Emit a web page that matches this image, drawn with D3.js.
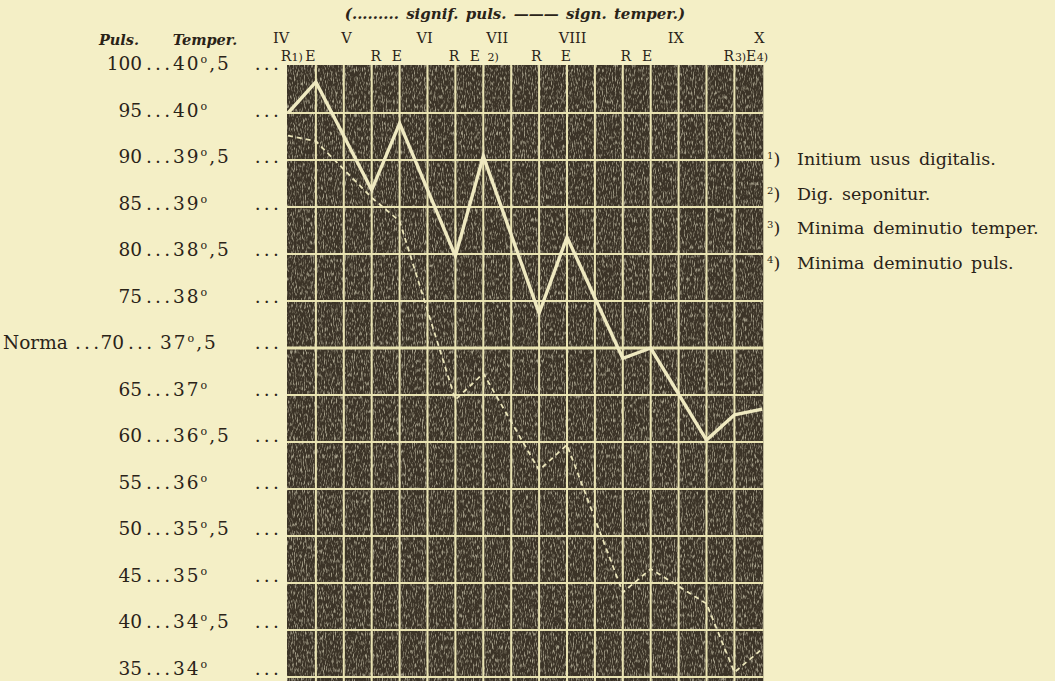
<!DOCTYPE html>
<html><head><meta charset="utf-8">
<script src="https://cdn.jsdelivr.net/npm/d3@7"></script>
<style>
html,body{margin:0;padding:0;background:#f4efc6;}
svg{display:block;}
text{font-family:"DejaVu Serif",serif;fill:#2a2318;}
</style></head><body>
<svg id="c" width="1055" height="681"></svg>
<script>
// ---- data ----
const pulseTicks = [100,95,90,85,80,75,70,65,60,55,50,45,40,35];
const temperTicks = [40.5,40,39.5,39,38.5,38,37.5,37,36.5,36,35.5,35,34.5,34];
const days = ["IV","V","VI","VII","VIII","IX","X"];
const dayCol = [-0.25,2.1,4.9,7.5,10.2,13.9,16.9];
const markText = ["R","1)","E","R","E","R","E","2)","R","E","R","E","R","3)","E","4)"];
const markCol = [-0.07,0.33,0.8,3.15,3.9,5.95,6.7,7.35,8.9,9.96,12.11,12.87,15.8,16.22,16.6,17.0];
const obsCol = [0,1,3,4,6,7,9,10,12,13,15,16,17];
const temper = [40.0,40.33,39.18,39.89,38.48,39.54,37.87,38.68,37.39,37.5,36.52,36.79,36.85];
const pulse  = [92.6,92.0,86.0,83.5,64.5,67.3,57.0,59.7,44.0,46.5,42.8,35.5,38.0];
const notes = ["Initium usus digitalis.","Dig. seponitur.","Minima deminutio temper.","Minima deminutio puls."];
const noteNum = ["1","2","3","4"];
const normaPulse = 70;

// ---- scales ----
const nCols = 17;
const x = d3.scaleLinear().domain([0,nCols]).range([288,762.3]);
const y = d3.scaleLinear().domain([35,100]).range([677,66]);
const yT = d3.scaleLinear().domain([34,40.5]).range([677,66]);
const yLab = d3.scaleLinear().domain([35,100]).range([668,63.5]);

const svg = d3.select("#c");
const defs = svg.append("defs");
const f = defs.append("filter").attr("id","grain").attr("x",0).attr("y",0).attr("width",1).attr("height",1);
f.append("feTurbulence").attr("type","fractalNoise").attr("baseFrequency","0.9 0.22").attr("numOctaves",2).attr("seed",7);
f.append("feColorMatrix").attr("type","matrix")
 .attr("values","0 0 0 0 0.86  0 0 0 0 0.82  0 0 0 0 0.62  0 0 0 3.2 -1.55");
f.append("feComposite").attr("in2","SourceGraphic").attr("operator","in");

// grid background
const gx0 = x(0)-1, gx1 = x(nCols)+1, gy0 = y(100)-1, gy1 = 681;
svg.append("rect").attr("x",gx0).attr("y",gy0).attr("width",gx1-gx0).attr("height",gy1-gy0).attr("fill","#3b3327");
svg.append("rect").attr("x",gx0).attr("y",gy0).attr("width",gx1-gx0).attr("height",gy1-gy0)
  .attr("fill","#fff").attr("filter","url(#grain)").attr("opacity",0.6);

// grid lines
const gridCol = "#e9e3b2";
svg.append("g").selectAll("line").data(d3.range(1,nCols)).join("line")
  .attr("x1",d=>x(d)).attr("x2",d=>x(d)).attr("y1",gy0).attr("y2",gy1)
  .attr("stroke",gridCol).attr("stroke-width",2);
svg.append("g").selectAll("line").data(pulseTicks.filter(p=>p<100)).join("line")
  .attr("x1",gx0).attr("x2",gx1).attr("y1",d=>y(d)).attr("y2",d=>y(d))
  .attr("stroke",gridCol).attr("stroke-width",d=>d===normaPulse?3.2:2);

// series
const pulseLine = d3.line().x((d,i)=>x(obsCol[i])).y(d=>y(d));
const tempLine = d3.line().x((d,i)=>x(obsCol[i])).y(d=>yT(d));
svg.append("path").datum(pulse).attr("d",pulseLine).attr("fill","none")
  .attr("stroke","#ece6bb").attr("stroke-width",1.8).attr("stroke-dasharray","5 4");
svg.append("path").datum(temper).attr("d",tempLine).attr("fill","none")
  .attr("stroke","#efe9c0").attr("stroke-width",3.4).attr("stroke-linejoin","miter");

// left labels
const fmtT = t => { const w = Math.floor(t); return {w:String(w), h: t-w>0 ? ",5" : ""}; };
const lab = svg.append("g").style("font-size","18.5px");
const dots = (xx,yy,anchor) => lab.append("text").attr("x",xx).attr("y",yy)
  .attr("text-anchor",anchor||"start").style("letter-spacing","3.2px").text("...");
const tempText = (xx,yy,t) => {
  const tt = lab.append("text").attr("x",xx).attr("y",yy).style("letter-spacing","2px");
  tt.append("tspan").text(t.w);
  tt.append("tspan").attr("dy",-7).style("font-size","11px").text("o");
  tt.append("tspan").attr("dy",7).text(t.h);
};
pulseTicks.forEach((p,i)=>{
  const yy = yLab(p)+6.5;
  const t = fmtT(temperTicks[i]);
  if (p===normaPulse){
    lab.append("text").attr("x",3).attr("y",yy).text("Norma");
    dots(75,yy);
    lab.append("text").attr("x",124).attr("y",yy).attr("text-anchor","end").text(p);
    dots(128,yy);
    tempText(160,yy,t);
  } else {
    lab.append("text").attr("x",142).attr("y",yy).attr("text-anchor","end").text(p);
    dots(146,yy);
    tempText(173,yy,t);
  }
  dots(282,yy,"end");
});

// header
svg.append("text").attr("x",119).attr("y",45).attr("text-anchor","middle")
  .style("font-style","italic").style("font-weight","bold").style("font-size","14.5px").text("Puls.");
svg.append("text").attr("x",205).attr("y",45).attr("text-anchor","middle")
  .style("font-style","italic").style("font-weight","bold").style("font-size","14.5px").text("Temper.");
svg.append("text").attr("x",515).attr("y",19).attr("text-anchor","middle")
  .style("font-style","italic").style("font-weight","bold").style("font-size","15px").style("word-spacing","2px")
  .text("(\u2024\u2024\u2024\u2024\u2024\u2024\u2024\u2024\u2024 signif. puls.  \u2014\u2014\u2014 sign. temper.)");
svg.append("g").selectAll("text").data(days).join("text")
  .attr("x",(d,i)=>x(dayCol[i])).attr("y",43).attr("text-anchor","middle")
  .style("font-size","14.5px").text(d=>d);
svg.append("g").selectAll("text").data(markText).join("text")
  .attr("x",(d,i)=>x(markCol[i])).attr("y",61).attr("text-anchor","middle")
  .style("font-size",d=>d.length>1?"11px":"14px").text(d=>d);

// notes
const ng = svg.append("g");
notes.forEach((n,i)=>{
  const yy = 165 + i*34.5;
  const t = ng.append("text").attr("x",767).attr("y",yy).style("font-size","17.5px");
  t.append("tspan").attr("dy",-6).style("font-size","10px").text(noteNum[i]);
  t.append("tspan").attr("dy",6).text(")");
  ng.append("text").attr("x",797).attr("y",yy).style("font-size","17.5px").style("word-spacing","3px").text(n);
});
</script>
</body></html>
